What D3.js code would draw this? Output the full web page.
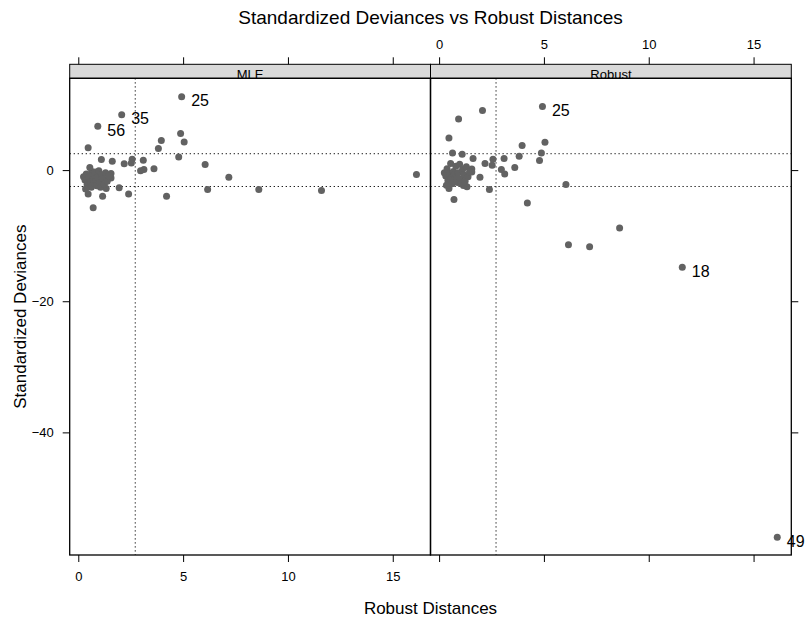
<!DOCTYPE html>
<html><head><meta charset="utf-8">
<script src="https://cdn.jsdelivr.net/npm/d3@7"></script>
<style>body{margin:0;background:#fff}svg{display:block;font-family:"Liberation Sans",Arial,sans-serif}</style>
</head><body><svg id="c" width="811" height="622"></svg>
<script>
// observation-ordered data (obs 1..59)
const distances = [
0.47, 5.05, 4.88, 4.79, 3.96, 3.82, 6.05, 7.18, 6.17, 8.61, 4.21, 3.61, 3.10, 3.13, 2.97, 2.57, 2.53,
11.6,
2.19, 1.62, 1.10, 2.40, 1.95, 1.33,
4.93,
1.16, 0.71, 0.47, 1.56, 1.56, 0.64, 0.25, 0.32, 0.38,
2.07,
0.42, 0.50, 0.55, 0.58, 0.62, 0.68, 0.72, 0.76, 0.80, 0.84, 0.88, 0.92, 0.98,
16.13,
1.02, 1.06, 1.12, 1.18, 1.24, 1.30,
0.93,
1.38, 1.45, 0.35];
const devMLE = [
3.4, 4.3, 5.6, 2.0, 4.5, 3.3, 0.85, -1.1, -2.95, -2.95, -4.0, 0.2, 1.5, 0.1, -0.1, 1.65, 1.1,
-3.1,
0.95, 1.35, 1.6, -3.65, -2.7, -2.8,
11.2,
-4.0, -5.75, -3.65, -0.5, -1.2, -0.2, -1.0, -1.5, -0.6,
8.46,
-2.2, -1.1, 0.4, -1.8, -2.6, -0.9, -1.4, -2.0, -0.3, -1.6, -2.4, -1.1, -0.1,
-0.67,
-1.9, -2.6, -0.7, -1.3, -2.2, -0.4,
6.7,
-1.7, -0.9, -2.9];
const devRobust = [
4.9, 4.25, 2.6, 1.45, 3.75, 2.1, -2.2, -11.7, -11.4, -8.84, -5.0, 0.4, 1.75, -0.6, 0.1, 1.65, 0.75,
-14.8,
1.0, 1.75, 2.4, -2.95, -1.1, -2.55,
9.7,
-2.35, -4.5, -2.8, 0.15, -0.3, 2.6, -0.4, -0.9, 0.2,
9.1,
-1.6, -0.5, 1.0, -1.2, -2.1, -0.2, -0.8, -1.3, 0.6, -1.0, -1.9, -0.4, 0.9,
-56.0,
-1.4, -2.0, 0.1, -0.7, -1.7, 0.5,
7.8,
-1.0, -0.3, -2.3];
const panelNames = ["MLE", "Robust"];
const labelObs = {MLE: [25, 35, 56], Robust: [25, 18, 49]};
const xTicks = [0, 5, 10, 15];
const yTicks = [0, -20, -40];
const hRef = [2.5, -2.5];
const vRef = 2.716;
const title = "Standardized Deviances vs Robust Distances";
const xLabel = "Robust Distances";
const yLabel = "Standardized Deviances";

const FONT = "Liberation Sans, Arial, sans-serif";
const svg = d3.select("#c");
const L0 = 69.7, PW = 360.8, T0 = 64.3, SH = 14, B0 = 555;
const plotTop = T0 + SH;
const x = d3.scaleLinear().domain([-0.41, 16.80]).range([0, PW]);
const y = d3.scaleLinear().domain([-58.7, 14.0]).range([B0, plotTop]);
const ptCol = "#626262";

svg.append("text").attr("x", L0 + PW).attr("y", 24).attr("text-anchor", "middle")
  .attr("font-size", 19).text(title);
svg.append("text").attr("x", L0 + PW).attr("y", 614).attr("text-anchor", "middle")
  .attr("font-size", 17).text(xLabel);
svg.append("text").attr("transform", `translate(26,${(plotTop + B0) / 2}) rotate(-90)`)
  .attr("text-anchor", "middle").attr("font-size", 17).text(yLabel);

const defs = svg.append("defs");
const series = {MLE: devMLE, Robust: devRobust};

function styleAxis(a) {
  a.attr("font-size", 13).attr("font-family", FONT);
  a.select(".domain").remove();
  a.selectAll(".tick line").attr("stroke", "#000");
  a.selectAll(".tick text").attr("fill", "#000");
}

panelNames.forEach((name, i) => {
  const ox = L0 + i * PW;
  const g = svg.append("g").attr("transform", `translate(${ox},0)`);
  defs.append("clipPath").attr("id", "clip" + i).append("rect")
    .attr("x", 0).attr("y", plotTop).attr("width", PW).attr("height", B0 - plotTop);
  g.append("rect").attr("x", 0).attr("y", T0).attr("width", PW).attr("height", SH)
    .attr("fill", "#d9d9d9").attr("stroke", "#000").attr("stroke-width", 1);
  g.append("text").attr("x", PW / 2).attr("y", T0 + SH + 0.6)
    .attr("text-anchor", "middle").attr("font-size", 13).text(name);
  const pg = g.append("g").attr("clip-path", `url(#clip${i})`);
  hRef.forEach(v => pg.append("line").attr("x1", 0).attr("x2", PW).attr("y1", y(v)).attr("y2", y(v))
    .attr("stroke", "#000").attr("stroke-width", 1).attr("stroke-dasharray", "1.2,2.8"));
  pg.append("line").attr("x1", x(vRef)).attr("x2", x(vRef)).attr("y1", plotTop).attr("y2", B0)
    .attr("stroke", "#000").attr("stroke-width", 1).attr("stroke-dasharray", "1.2,2.8");
  const vals = series[name];
  g.selectAll("circle.p").data(distances).join("circle").attr("class", "p")
    .attr("cx", d => x(d)).attr("cy", (d, k) => y(vals[k])).attr("r", 3.5).attr("fill", ptCol);
  labelObs[name].forEach(o => {
    g.append("text").attr("x", x(distances[o - 1]) + 9.5).attr("y", y(vals[o - 1]) + 9.5)
      .attr("font-size", 16).text(o);
  });
  g.append("rect").attr("x", 0).attr("y", plotTop).attr("width", PW).attr("height", B0 - plotTop)
    .attr("fill", "none").attr("stroke", "#000").attr("stroke-width", 1.3);
  const axB = d3.axisBottom(x).tickValues(xTicks).tickSize(7).tickPadding(10)
    .tickFormat(i === 0 ? d3.format("d") : () => "");
  styleAxis(g.append("g").attr("transform", `translate(0,${B0})`).call(axB));
  const axT = d3.axisTop(x).tickValues(xTicks).tickSize(7).tickPadding(8)
    .tickFormat(i === 1 ? d3.format("d") : () => "");
  styleAxis(g.append("g").attr("transform", `translate(0,${T0})`).call(axT));
});
styleAxis(svg.append("g").attr("transform", `translate(${L0},0)`)
  .call(d3.axisLeft(y).tickValues(yTicks).tickSize(7).tickPadding(9).tickFormat(d3.format("d"))));
styleAxis(svg.append("g").attr("transform", `translate(${L0 + 2 * PW},0)`)
  .call(d3.axisRight(y).tickValues(yTicks).tickSize(7).tickFormat(() => "")));
</script></body></html>
